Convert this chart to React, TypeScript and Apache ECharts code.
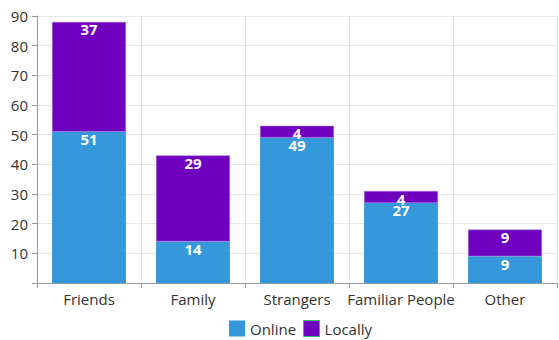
import React, { useEffect, useRef } from "react";
import * as echarts from "echarts";

const categories = ["Friends", "Family", "Strangers", "Familiar People", "Other"];
const onlineValues = [51, 14, 49, 27, 9];
const locallyValues = [37, 29, 4, 4, 9];

export default function App() {
  const ref = useRef<HTMLDivElement>(null);
  useEffect(() => {
    const chart = echarts.init(ref.current!, null, { renderer: "svg" });
    const font = "'Open Sans', 'Noto Sans', sans-serif";
    chart.setOption({
      animation: false,
      textStyle: { fontFamily: font },
      grid: { left: 37, right: 2, top: 16, bottom: 57, containLabel: false },
      legend: {
        bottom: 3,
        left: 229,
        padding: 0,
        itemWidth: 16,
        itemHeight: 16,
        itemGap: 7,
        icon: "rect",
        textStyle: { fontSize: 15, color: "#333", fontFamily: font },
        data: [
          { name: "Online" },
          { name: "Locally", itemStyle: { borderColor: "#3cb371", borderWidth: 1 } },
        ],
      },
      xAxis: {
        type: "category",
        data: categories,
        axisLine: { lineStyle: { color: "#999" } },
        axisTick: { show: true, length: 5, interval: 0, lineStyle: { color: "#999" } },
        splitLine: { show: true, interval: 0, lineStyle: { color: "#e6e6e6" } },
        axisLabel: { fontSize: 15, color: "#333", margin: 8, interval: 0, fontFamily: font },
      },
      yAxis: {
        type: "value",
        min: 0,
        max: 90,
        interval: 10,
        axisLine: { show: true, lineStyle: { color: "#999" } },
        axisTick: { show: true, length: 5, lineStyle: { color: "#999" } },
        splitLine: { show: true, lineStyle: { color: "#e6e6e6" } },
        axisLabel: {
          fontSize: 15,
          color: "#333",
          margin: 9,
          fontFamily: font,
          formatter: (v: number) => (v === 0 ? "" : String(v)),
        },
      },
      series: [
        {
          name: "Online",
          type: "bar",
          stack: "total",
          barWidth: "71%",
          data: onlineValues,
          itemStyle: { color: "#3498db" },
          label: {
            show: true,
            position: "insideTop",
            distance: 0,
            color: "#fff",
            fontWeight: "bold",
            fontSize: 15,
            fontFamily: font,
          },
        },
        {
          name: "Locally",
          type: "bar",
          stack: "total",
          barWidth: "71%",
          data: locallyValues,
          itemStyle: { color: "#6f00c0", borderColor: "#a070e0", borderWidth: 0.5 },
          label: {
            show: true,
            position: "insideTop",
            distance: 0,
            color: "#fff",
            fontWeight: "bold",
            fontSize: 15,
            fontFamily: font,
          },
        },
      ],
    });
    return () => chart.dispose();
  }, []);
  return <div ref={ref} style={{ width: 559, height: 340, position: "absolute", left: 0, top: 0 }} />;
}
